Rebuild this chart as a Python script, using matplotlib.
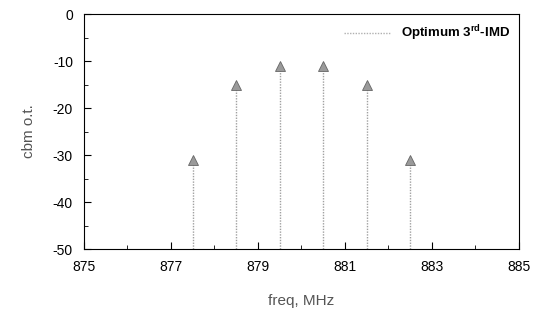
import matplotlib
matplotlib.use("Agg")
import matplotlib.pyplot as plt
from matplotlib.ticker import MultipleLocator

plt.rcParams['font.family'] = ['Liberation Sans', 'DejaVu Sans']
plt.rcParams['axes.unicode_minus'] = False

freq = [877.5, 878.5, 879.5, 880.5, 881.5, 882.5]
power = [-31, -15, -11, -11, -15, -31]
xticks = [875, 877, 879, 881, 883, 885]
yticks = [0, -10, -20, -30, -40, -50]

fig = plt.figure(figsize=(5.44, 3.22), dpi=100)
ax = fig.add_axes([0.1544, 0.2267, 0.7996, 0.7298])

gray = '#a0a0a0'
ax.vlines(freq, -50, power, colors=gray, linestyles=(0, (1, 1)), linewidth=1.0)
ax.plot(freq, power, linestyle='none', marker='^', markersize=6.5, color='#9a9a9a',
        markeredgecolor='#666666', markeredgewidth=0.6)
ax.plot([], [], color='#b0b0b0', linestyle=(0, (1, 1)), linewidth=1.0,
        label='Optimum 3$^{\\mathregular{rd}}$-IMD')

ax.set_xlim(875, 885)
ax.set_ylim(-50, 0)
ax.set_xticks(xticks)
ax.set_yticks(yticks)
ax.xaxis.set_minor_locator(MultipleLocator(1))
ax.yaxis.set_minor_locator(MultipleLocator(5))
ax.tick_params(which='both', direction='in', labelsize=10, pad=8)
ax.tick_params(which='major', length=5)
ax.tick_params(which='minor', length=3)
for s in ax.spines.values():
    s.set_linewidth(0.8)

ax.set_xlabel('freq, MHz', fontsize=11, color='#555555', labelpad=14)
ax.set_ylabel('cbm o.t.', fontsize=11, color='#555555', labelpad=12)

leg = ax.legend(loc='upper right', frameon=False, prop={'weight': 'bold', 'size': 9.5},
                handlelength=3.5, borderaxespad=0.3)

fig.savefig('out.png', dpi=100)
